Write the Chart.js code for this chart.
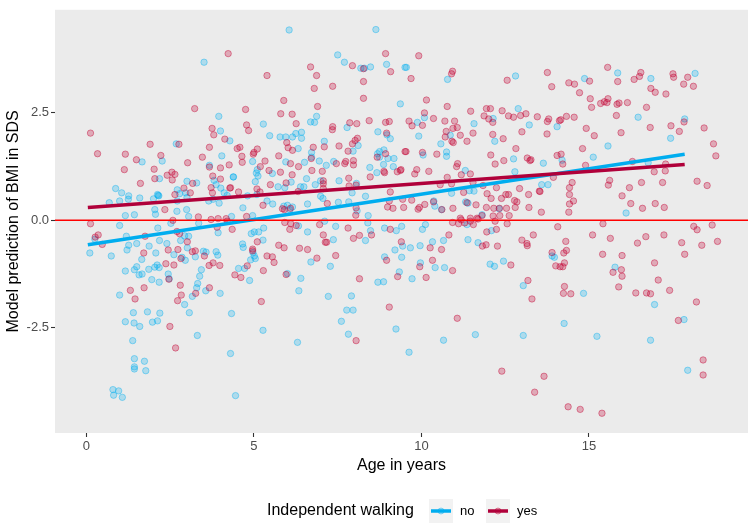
<!DOCTYPE html>
<html>
<head>
<meta charset="utf-8">
<script src="https://cdn.jsdelivr.net/npm/chart.js@4.4.1/dist/chart.umd.min.js"></script>
<style>
  html, body { margin: 0; padding: 0; background: #ffffff; }
  #wrap { width: 754px; height: 527px; }
</style>
</head>
<body>
<div id="wrap"><canvas id="c" width="754" height="527"></canvas></div>
<script>
// ---------------- DATA ----------------
const xTicks = [0, 5, 10, 15];
const yTicks = [-2.5, 0, 2.5];
const seriesNames = ['no', 'yes'];
const legendTitle = 'Independent walking';
const xTitle = 'Age in years';
const yTitle = 'Model prediction of BMI in SDS';

// Independent walking = no : [age, predicted BMI SDS]
const noPoints = [
[3.51,3.68],[3.95,2.42],[4.0,2.08],[4.28,1.85],[2.68,1.78],[2.26,1.38],[1.66,1.36],[4.04,1.50],[3.67,1.28],[4.38,1.01],
[2.18,0.97],[3.0,0.91],[3.29,0.87],[3.81,0.93],[3.87,0.83],[0.87,0.74],[1.05,0.64],[1.26,0.57],[0.68,0.41],[0.99,0.45],
[1.25,0.49],[1.59,0.52],[2.0,0.50],[2.14,0.58],[2.12,0.60],[2.16,0.57],[2.71,0.71],[2.78,0.62],[2.96,0.64],[2.71,0.45],
[3.0,0.53],[3.65,0.45],[3.78,0.49],[4.01,0.75],[4.11,0.64],[4.20,0.58],[3.96,0.40],[2.04,0.25],[2.70,0.21],[2.99,0.25],
[1.16,0.11],[1.43,0.13],[2.06,0.14],[3.05,0.09],[4.33,0.09],
[0.10,-0.76],[0.74,-0.83],[0.25,-0.44],[0.99,-0.12],[1.21,-0.69],[1.26,-0.58],[1.50,-0.54],[1.19,-0.37],[1.16,-1.18],[1.43,-1.15],
[1.50,-1.08],[1.57,-1.27],[1.66,-1.25],[1.65,-0.91],[1.87,-0.60],[1.86,-1.14],[2.04,-1.09],[2.11,-1.04],[2.17,-1.10],[2.07,-0.76],
[2.18,-0.47],[2.13,-0.18],[2.40,-0.54],[2.52,-0.07],[2.61,-0.80],[2.85,-0.86],[2.95,-0.93],[2.81,-0.47],[2.93,-0.36],[3.01,-0.64],
[3.05,-0.37],[1.95,-1.38],[2.17,-1.44],[2.44,-1.25],[2.47,-1.36],[3.25,-0.85],[3.49,-0.72],[3.57,-0.74],[3.87,-0.73],[3.92,-0.81],
[3.43,-1.15],[3.38,-1.30],[3.32,-1.47],[3.29,-1.57],[3.16,-1.77],[3.56,-1.64],[3.99,-1.70],[0.99,-1.74],[2.93,-1.96],[3.07,-2.15],
[1.40,-2.15],[1.82,-2.13],[2.19,-2.16],[1.16,-2.36],[1.42,-2.39],[1.59,-2.47],[1.97,-2.37],[2.12,-2.34],[1.38,-2.80],[3.31,-2.68],
[4.33,-2.17],[4.30,-3.10],[1.43,-3.22],[1.73,-3.28],[1.43,-3.41],[1.43,-3.46],[1.77,-3.50],[0.79,-3.94],[0.96,-3.97],[0.81,-4.07],
[1.07,-4.12],[4.45,-4.08],[3.35,-0.07],[3.93,-0.29],
[6.05,4.43],[8.64,4.44],[7.50,3.85],[7.70,3.68],[8.19,3.54],[8.30,3.54],[8.48,3.57],[8.96,3.63],[9.51,3.56],[9.37,2.71],
[6.87,2.42],[6.69,2.29],[6.81,2.28],[5.28,2.24],[5.47,1.97],[5.78,1.94],[5.95,1.94],[6.15,1.94],[6.25,2.02],[6.42,2.05],
[6.42,1.91],[7.78,2.16],[8.70,2.06],[8.97,1.99],[9.07,1.90],[7.10,1.84],[6.32,1.67],[6.72,1.58],[6.72,1.47],[8.11,1.74],
[7.96,1.61],[8.75,1.60],[8.88,1.64],[8.69,1.55],[8.75,1.47],[9.0,1.44],[9.18,1.44],[8.87,1.30],[9.16,1.25],[5.95,1.36],
[6.51,1.35],[6.95,1.38],[7.16,1.28],[7.38,1.37],[8.46,1.23],[8.67,1.11],[4.39,1.01],[4.96,1.37],[5.10,1.18],[5.07,1.10],
[5.12,1.03],[5.04,0.90],[5.55,1.09],[6.11,0.89],[5.72,0.78],[5.92,0.76],[6.57,0.97],[6.39,0.78],[6.49,0.78],[6.99,0.92],
[6.83,0.83],[7.54,0.92],[8.06,0.86],[7.93,0.64],[8.33,0.56],[6.99,0.56],[7.06,0.51],[6.60,0.38],[6.0,0.35],[6.15,0.31],
[5.89,0.33],[6.07,0.25],[5.56,0.38],[5.39,0.45],[5.09,0.60],[4.81,0.57],[4.67,0.29],[8.41,0.11],[8.08,0.22],[7.83,0.43],
[7.52,0.42],[4.96,0.11],
[9.55,3.56],[10.78,3.28],[12.81,3.36],[10.09,2.39],[9.88,2.28],[9.92,1.96],[10.05,1.52],[10.58,1.78],[10.75,1.59],[10.75,1.49],
[10.86,1.98],[11.57,2.25],[12.14,2.37],[12.89,2.60],[13.22,2.22],[14.05,2.18],[12.19,1.84],[11.31,1.16],[12.75,1.43],[13.64,1.33],
[12.79,1.13],[14.20,1.40],[11.43,0.69],[11.57,0.68],[11.32,0.43],[11.39,0.40],[10.37,0.45],[10.40,0.33],[10.60,0.25],[12.32,0.27],
[10.90,0.63],[13.59,0.83],[13.78,0.83],[11.81,0.13],
[14.87,3.30],[15.86,3.43],[16.85,3.30],[18.17,3.42],[16.47,2.40],[17.86,2.36],[17.44,1.91],[15.57,1.73],[15.13,1.47],[16.77,1.34],
[16.11,0.17],
[4.92,-0.31],[5.01,-0.27],[5.14,-0.27],[5.29,-0.18],[5.27,-0.46],[4.66,-0.55],[4.68,-0.63],[4.97,-0.75],[5.01,-0.83],[5.04,-0.89],
[4.90,-0.92],[4.72,-1.12],[4.54,-1.12],[4.87,-1.40],[6.0,-1.24],[6.40,-1.35],[6.34,-1.64],[6.60,-0.27],[6.33,-0.13],[6.70,-0.97],
[7.37,-0.45],[7.44,-0.14],[7.28,-1.07],[7.11,-0.02],[7.22,-1.77],[7.91,-1.76],[7.77,-2.09],[7.96,-2.09],[7.61,-2.35],[7.82,-2.65],
[6.30,-2.84],[5.27,-2.56],[8.33,-0.47],[8.48,-0.24],[8.40,-0.06],[8.90,-0.18],[9.25,-0.24],[9.41,-0.14],[9.21,-0.69],[9.44,-0.60],
[8.90,-0.85],[9.41,-0.86],[8.70,-1.44],[8.87,-1.43],[9.34,-1.20],[9.24,-2.53],
[10.12,-0.10],[10.03,-0.21],[9.67,-0.64],[9.96,-0.59],[10.33,-0.50],[10.66,-0.47],[9.97,-0.99],[10.41,-1.10],[10.69,-1.10],[9.72,-1.36],
[11.39,-0.45],[11.69,-0.52],[12.05,-1.02],[12.18,-1.07],[12.45,-0.95],[13.04,-1.52],[13.97,-0.86],[13.90,-0.83],[14.26,-2.40],[13.04,-2.68],
[11.61,-2.66],[10.66,-2.79],[9.63,-3.07],[11.36,-0.10],[12.09,-0.24],
[15.78,-1.09],[14.84,-1.70],[16.96,-1.96],[17.84,-2.31],[15.24,-2.70],[16.84,-2.79],[17.95,-3.49]
];

// Independent walking = yes : [age, predicted BMI SDS]
const yesPoints = [
[4.23,3.88],[3.23,2.60],[0.12,2.03],[0.33,1.55],[1.90,1.77],[1.16,1.54],[1.49,1.41],[2.22,1.51],[1.13,1.18],[2.02,1.19],
[3.02,1.34],[2.76,1.77],[3.75,2.14],[3.80,1.99],[4.13,1.89],[3.67,1.70],[3.46,1.47],[4.26,1.29],[3.67,1.24],[4.0,1.22],
[3.77,1.03],[4.0,0.96],[1.61,0.86],[2.04,0.97],[2.41,1.05],[2.55,1.12],[2.64,1.07],[2.56,0.94],[3.17,0.86],[2.91,0.75],
[3.10,0.64],[2.64,0.60],[3.72,0.76],[3.76,0.64],[4.28,0.75],[2.34,0.25],[3.34,0.08],[2.58,0.00],[3.72,0.02],[3.93,0.04],
[4.17,0.04],
[0.12,-0.08],[0.26,-0.39],[0.35,-0.34],[0.47,-0.56],[2.70,-0.26],[2.78,-0.31],[1.75,-0.37],[1.71,-0.76],[2.44,-0.69],[2.73,-0.68],
[3.01,-0.50],[3.16,-0.73],[3.25,-0.71],[2.82,-0.89],[2.37,-1.01],[2.61,-1.04],[3.52,-0.83],[3.66,-1.05],[3.78,-0.99],[3.98,-1.05],
[2.46,-1.37],[2.80,-1.51],[1.72,-1.57],[1.31,-1.63],[1.45,-1.83],[2.83,-1.74],[2.72,-1.87],[3.26,-1.70],[3.67,-1.57],[2.49,-2.47],
[2.66,-2.97],[3.90,-0.16],[4.20,-0.02],[4.35,-0.21],[4.43,-1.27],
[5.39,3.37],[6.69,3.57],[6.87,3.37],[6.80,3.07],[7.35,3.12],[7.94,3.60],[8.27,3.53],[8.27,3.23],[8.27,2.84],[8.93,3.88],
[9.08,3.46],[4.75,2.58],[4.78,2.22],[4.84,2.09],[5.89,2.79],[5.80,2.48],[6.14,2.47],[6.26,2.25],[6.90,2.65],[7.35,2.18],
[7.34,2.11],[7.86,2.27],[8.07,2.25],[8.44,2.32],[8.93,2.28],[9.04,2.30],[8.96,2.03],[4.50,1.67],[4.58,1.70],[4.64,1.49],
[4.65,1.35],[4.98,1.54],[5.0,1.58],[5.10,1.66],[5.33,1.38],[5.19,1.25],[5.98,1.81],[6.02,1.69],[6.15,1.63],[5.74,1.50],
[6.09,1.32],[5.79,1.12],[5.45,1.16],[6.14,1.06],[6.33,1.25],[6.71,1.44],[6.77,1.70],[6.73,1.16],[7.04,1.14],[7.10,1.71],
[7.54,1.73],[7.81,1.61],[7.94,1.78],[8.02,1.86],[8.09,1.91],[7.74,1.37],[7.97,1.39],[7.97,1.29],[7.71,1.32],[7.46,1.32],
[7.83,0.98],[8.05,0.82],[8.68,1.47],[8.93,1.55],[8.88,1.14],[9.28,1.13],[9.39,1.18],[9.51,1.60],[5.49,0.83],[5.96,0.87],
[6.32,0.67],[7.07,0.92],[7.07,0.85],[7.07,0.74],[7.84,0.80],[8.47,1.01],[8.90,1.11],[4.54,0.66],[4.30,0.76],[5.09,0.73],
[5.18,0.66],[5.27,0.35],[5.85,0.27],[5.91,0.25],[6.09,0.28],[7.19,0.39],[8.05,0.29],[8.04,0.12],[8.99,0.31],[9.15,0.28],
[9.04,0.45],[9.07,0.66],[9.44,0.49],[4.78,0.09],[9.47,0.30],
[9.92,3.83],[9.69,3.30],[10.93,3.47],[10.90,3.41],[12.56,3.26],[13.76,3.44],[13.89,3.11],[14.40,3.20],[14.57,3.17],[10.15,2.80],
[10.77,2.65],[11.47,2.54],[11.94,2.60],[12.06,2.60],[12.41,2.55],[12.01,2.36],[11.87,2.43],[12.13,2.28],[12.60,2.43],[12.75,2.40],
[12.96,2.44],[13.12,2.48],[13.46,2.41],[13.80,2.36],[13.76,2.30],[14.12,2.32],[14.16,2.34],[14.33,2.42],[14.56,2.40],[9.63,2.31],
[9.72,2.20],[10.03,2.21],[10.09,2.50],[10.36,2.37],[10.70,2.31],[10.99,2.31],[11.07,2.16],[10.94,2.14],[10.74,2.07],[10.71,1.94],
[11.16,1.98],[11.36,1.84],[11.54,2.03],[10.91,1.84],[10.95,1.81],[12.13,2.00],[12.44,1.90],[13.00,2.06],[13.75,2.01],[9.54,1.60],
[10.46,1.54],[10.03,1.58],[11.08,1.32],[11.05,1.25],[11.19,1.06],[11.46,1.08],[12.07,1.52],[12.20,1.31],[12.46,1.39],[12.82,1.67],
[13.16,1.45],[13.24,1.39],[13.27,1.41],[14.05,1.51],[14.17,1.54],[14.22,1.31],[9.37,1.16],[9.80,1.08],[9.86,1.18],[10.22,1.14],
[10.77,1.00],[10.56,0.83],[10.90,0.85],[11.26,0.65],[11.54,0.88],[11.84,0.81],[11.96,0.62],[12.24,0.76],[12.08,0.51],[12.39,0.51],
[12.52,0.60],[12.60,0.60],[12.78,0.46],[12.85,0.43],[12.93,0.74],[13.20,0.60],[13.54,0.67],[13.52,0.68],[13.94,1.00],[14.42,0.76],
[14.50,0.88],[14.42,0.60],[14.54,0.45],[14.42,0.38],[14.40,0.19],[13.58,0.19],[13.21,0.30],[12.80,0.30],[12.54,0.28],[12.33,0.28],
[12.16,0.28],[11.94,0.30],[11.63,0.36],[11.36,0.41],[10.94,0.28],[10.61,0.25],[10.36,0.43],[10.10,0.37],[9.94,0.30],[9.71,0.47],
[9.90,0.26],[11.16,0.05],[11.46,0.05],[11.66,0.05],[11.81,0.11],[12.62,0.11],[12.34,0.11],[12.14,0.10],
[15.56,3.56],[15.02,3.24],[15.86,3.23],[16.35,3.28],[16.51,3.35],[16.55,3.44],[16.85,3.07],[16.98,2.98],[17.30,2.94],[17.51,3.41],
[17.53,3.33],[17.83,3.17],[17.95,3.33],[18.12,3.12],[14.72,2.97],[15.04,2.83],[15.08,2.63],[15.35,2.72],[15.46,2.76],[15.54,2.74],
[15.57,2.83],[15.84,2.70],[15.90,2.73],[16.15,2.74],[15.82,2.44],[16.72,2.63],[14.92,2.14],[15.16,1.97],[15.96,2.04],[16.83,2.16],
[17.45,2.20],[17.70,2.07],[17.84,2.29],[18.44,2.15],[18.72,1.78],[18.79,1.50],[14.81,1.67],[14.90,1.28],[16.30,1.37],[17.29,1.31],
[16.95,1.13],[17.28,1.15],[15.62,0.93],[15.58,0.82],[16.57,0.88],[17.20,0.88],[18.23,0.91],[18.53,0.81],[16.21,0.76],[15.99,0.57],
[16.25,0.39],[16.60,0.28],[16.98,0.39],[17.25,0.30],
[5.92,-0.05],[6.10,-0.08],[6.07,-0.21],[6.26,-0.12],[6.96,-0.10],[7.07,-0.34],[7.13,-0.51],[7.17,-0.51],[7.81,-0.18],[7.97,-0.42],
[8.15,-0.35],[8.51,-0.34],[9.07,-0.21],[5.10,-0.50],[4.96,-0.67],[4.96,-0.71],[5.74,-0.58],[5.90,-0.64],[6.36,-0.65],[6.60,-0.68],
[5.39,-0.83],[5.55,-0.85],[5.60,-0.98],[4.80,-1.06],[5.28,-1.17],[4.61,-1.33],[6.88,-0.88],[7.44,-0.82],[5.96,-1.26],[8.15,-1.36],
[8.96,-0.93],[9.29,-1.31],[5.22,-1.89],[9.04,-2.02],[8.05,-2.80],[9.40,-0.50],
[10.93,-0.05],[11.11,-0.08],[11.19,0.01],[11.29,-0.06],[11.46,-0.02],[11.55,-0.10],[11.69,0.03],[12.20,-0.02],[12.24,-0.21],[11.95,-0.27],
[12.56,-0.08],[10.82,-0.34],[10.26,-0.64],[10.60,-0.68],[10.33,-0.93],[9.95,-1.08],[10.14,-1.33],[10.93,-1.17],[11.82,-0.60],[11.93,-0.57],
[12.27,-0.60],[12.67,-1.04],[13.00,-0.46],[13.15,-0.54],[13.16,-0.59],[13.34,-0.34],[14.07,-0.15],[14.31,-0.49],[13.90,-0.75],[14.25,-0.76],
[14.33,-0.70],[14.27,-0.99],[14.01,-1.06],[14.14,-1.08],[14.22,-1.08],[13.18,-1.40],[13.30,-1.83],[14.27,-1.54],[14.24,-1.70],[14.46,-1.71],
[11.07,-2.28],[12.40,-3.51],[13.66,-3.63],[13.38,-4.00],[14.38,-4.34],
[15.42,-0.08],[15.11,-0.34],[15.64,-0.42],[16.45,-0.53],[16.70,-0.38],[17.24,-0.34],[17.77,-0.52],[17.86,-0.79],[18.13,-0.14],[18.23,-0.22],
[18.68,-0.11],[18.84,-0.49],[18.37,-0.58],[15.41,-0.79],[15.99,-0.82],[15.72,-1.21],[15.97,-1.15],[15.99,-1.30],[15.89,-1.55],[16.40,-1.69],
[16.72,-1.69],[16.84,-1.71],[17.07,-1.39],[16.96,-0.99],[17.41,-1.63],[18.21,-1.90],[17.67,-2.33],[18.41,-3.25],[18.41,-3.60],[14.74,-4.40],
[15.39,-4.49]
];

// Linear fit lines (start and end)
const noFit  = [[0.04, -0.57], [17.86, 1.54]];
const yesFit = [[0.04, 0.30], [17.86, 1.30]];
const refLineValue = 0;           // horizontal reference line
const xRange = [-0.94, 19.75];
const yRange = [-4.95, 4.9];

// ---------------- STYLE ----------------
const FONT = "'Liberation Sans', Arial, Helvetica, sans-serif";
const BLUE = '#00adef';
const RED  = '#b0003a';
const BLUE_FILL = 'rgba(0,174,239,0.26)';
const BLUE_EDGE = 'rgba(0,174,239,0.40)';
const RED_FILL  = 'rgba(195,0,50,0.28)';
const RED_EDGE  = 'rgba(195,0,50,0.42)';

const toXY = arr => arr.map(p => ({x: p[0], y: p[1]}));

const panelBg = {
  id: 'panelBg',
  beforeDraw(chart) {
    const {ctx, chartArea: a} = chart;
    ctx.save();
    ctx.fillStyle = '#ffffff';
    ctx.fillRect(0, 0, chart.width, chart.height);
    ctx.fillStyle = '#ebebeb';
    ctx.fillRect(a.left, a.top, a.right - a.left, a.bottom - a.top);
    ctx.restore();
  }
};

const refLine = {
  id: 'refLine',
  afterDatasetsDraw(chart) {
    const {ctx, chartArea: a, scales} = chart;
    const y = scales.y.getPixelForValue(refLineValue);
    ctx.save();
    ctx.strokeStyle = '#ff0000';
    ctx.lineWidth = 1.5;
    ctx.beginPath();
    ctx.moveTo(a.left, y);
    ctx.lineTo(a.right, y);
    ctx.stroke();
    ctx.restore();
  }
};

const ggLegend = {
  id: 'ggLegend',
  afterDraw(chart) {
    const ctx = chart.ctx;
    const cy = 511;
    ctx.save();
    ctx.textBaseline = 'middle';
    ctx.fillStyle = '#000000';
    ctx.font = '16px ' + FONT;
    ctx.textAlign = 'left';
    ctx.fillText(legendTitle, 267, cy);
    const keys = [
      {x: 429, label: seriesNames[0], line: BLUE, fill: BLUE_FILL, edge: BLUE_EDGE},
      {x: 486, label: seriesNames[1], line: RED,  fill: RED_FILL,  edge: RED_EDGE}
    ];
    keys.forEach(k => {
      ctx.fillStyle = '#f2f2f2';
      ctx.fillRect(k.x, cy - 12, 24, 24);
      ctx.beginPath();
      ctx.arc(k.x + 12, cy, 3, 0, Math.PI * 2);
      ctx.fillStyle = k.fill; ctx.fill();
      ctx.strokeStyle = k.edge; ctx.lineWidth = 1; ctx.stroke();
      ctx.strokeStyle = k.line; ctx.lineWidth = 3.5;
      ctx.beginPath();
      ctx.moveTo(k.x + 2, cy); ctx.lineTo(k.x + 22, cy);
      ctx.stroke();
      ctx.fillStyle = '#000000';
      ctx.font = '13px ' + FONT;
      ctx.fillText(k.label, k.x + 31, cy);
    });
    ctx.restore();
  }
};

const axisCommon = {
  type: 'linear',
  grid: { display: true, drawOnChartArea: false, drawTicks: true, tickLength: 4, tickColor: '#333333', tickWidth: 1.1 },
  border: { display: false }
};

new Chart(document.getElementById('c'), {
  type: 'scatter',
  data: {
    datasets: [
      { label: 'yes fit', type: 'line', data: toXY(yesFit), borderColor: RED, borderWidth: 3.5,
        pointRadius: 0, fill: false, order: 0, borderCapStyle: 'butt' },
      { label: 'no fit', type: 'line', data: toXY(noFit), borderColor: BLUE, borderWidth: 3.5,
        pointRadius: 0, fill: false, order: 1, borderCapStyle: 'butt' },
      { label: seriesNames[1], data: toXY(yesPoints), backgroundColor: RED_FILL, borderColor: RED_EDGE,
        borderWidth: 1, pointRadius: 3.2, order: 2 },
      { label: seriesNames[0], data: toXY(noPoints), backgroundColor: BLUE_FILL, borderColor: BLUE_EDGE,
        borderWidth: 1, pointRadius: 3.2, order: 3 }
    ]
  },
  options: {
    responsive: false,
    animation: false,
    events: [],
    layout: { padding: { left: 0, right: 6, top: 5, bottom: 0 } },
    plugins: { legend: { display: false }, tooltip: { enabled: false } },
    scales: {
      x: Object.assign({}, axisCommon, {
        min: xRange[0], max: xRange[1],
        afterBuildTicks: s => { s.ticks = xTicks.map(v => ({ value: v })); },
        afterFit: s => { s.height = 94; },
        ticks: { color: '#4d4d4d', font: { size: 13, family: FONT }, padding: 2, maxRotation: 0, autoSkip: false,
                 callback: v => String(v) },
        title: { display: true, text: xTitle, color: '#000000', font: { size: 16, family: FONT },
                 padding: { top: 0, bottom: 52 } }
      }),
      y: Object.assign({}, axisCommon, {
        min: yRange[0], max: yRange[1],
        afterBuildTicks: s => { s.ticks = yTicks.map(v => ({ value: v })); },
        afterFit: s => { s.width = 55; },
        ticks: { color: '#4d4d4d', font: { size: 13, family: FONT }, padding: 2, autoSkip: false,
                 callback: v => Number(v).toFixed(1) },
        title: { display: true, text: yTitle, color: '#000000', font: { size: 16, family: FONT },
                 padding: { top: 4, bottom: 0 } }
      })
    }
  },
  plugins: [panelBg, refLine, ggLegend]
});
</script>
</body>
</html>
